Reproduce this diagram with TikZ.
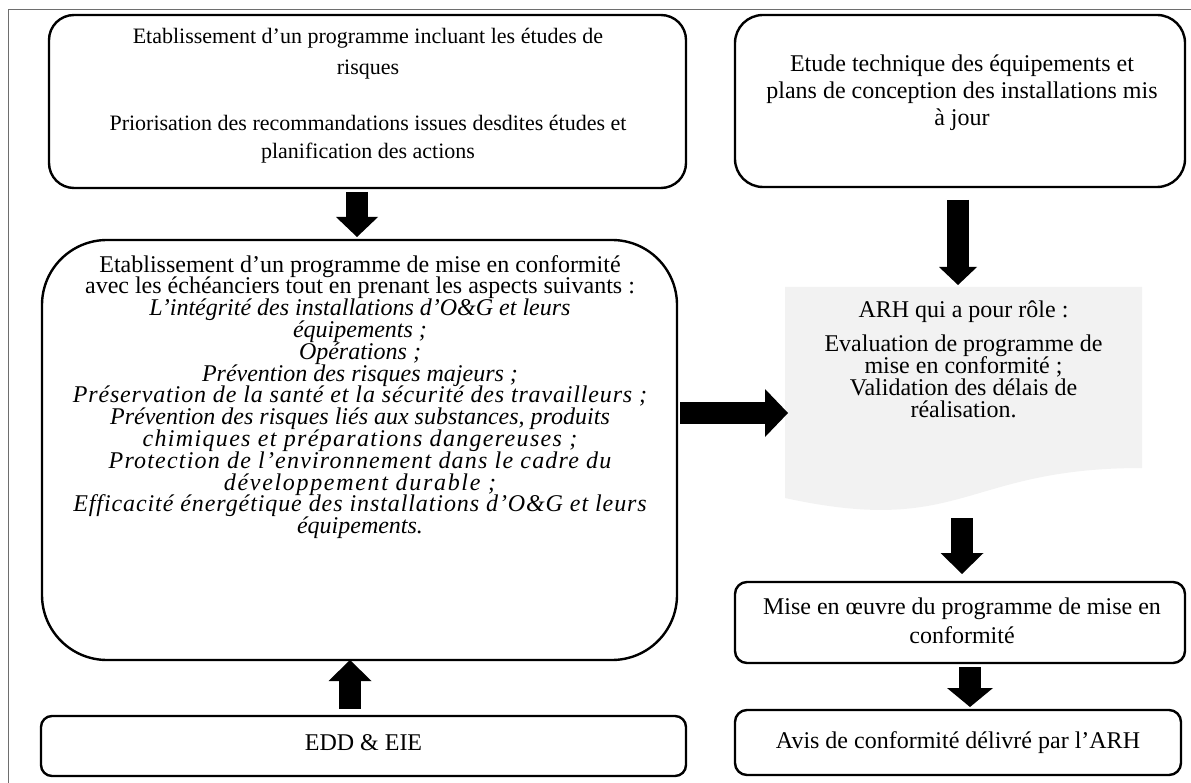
\documentclass[tikz,border=0pt]{standalone}
\usepackage{fontspec}
\setmainfont{Liberation Serif}
\usetikzlibrary{arrows.meta,calc}
\definecolor{docfill}{HTML}{F2F2F2}
\definecolor{framegray}{HTML}{6E6E6E}
\newcommand{\spaced}[2]{{\addfontfeature{LetterSpace=#1}#2}}
\begin{document}
\begin{tikzpicture}[x=1pt,y=-1pt,
  box/.style={draw, line width=2.4pt, outer sep=0pt, inner sep=0pt},
  txt/.style={align=center, inner sep=0pt, anchor=north,
    font={\fontsize{24}{#1}\selectfont\lineskiplimit=-100pt}},
  txt/.default=21.8,
  smalltxt/.style={align=center, inner sep=0pt, anchor=north,
    font={\fontsize{22}{#1}\selectfont\lineskiplimit=-100pt}},
  bigarrow/.style 2 args={line width=22pt,
    -{Triangle[width=#1,length=#2,line width=0pt]}}
]
\useasboundingbox (0,0) rectangle (1191,783);

% page frame
\draw[framegray, line width=1.3pt] (8.5,790) -- (8.5,9.5) -- (1200,9.5);

% boxes
\node[box, rounded corners=25pt, minimum width=637pt, minimum height=173pt] (b1) at (367.5,101.5) {};
\node[box, rounded corners=28pt, minimum width=450pt, minimum height=172pt] (b2) at (960,101) {};
\node[box, rounded corners=65pt, minimum width=635pt, minimum height=420pt] (b3) at (359.5,450) {};
\node[box, rounded corners=11pt, minimum width=645pt, minimum height=60pt] (edd) at (363.5,746) {};
\node[box, rounded corners=12pt, minimum width=450pt, minimum height=81pt] (mise) at (960,622.5) {};
\node[box, rounded corners=12pt, minimum width=446pt, minimum height=65pt] (avis) at (958,742.5) {};

% document shape for the ARH step
\node[minimum width=357pt, minimum height=226pt, inner sep=0pt, outer sep=0pt] (arh) at (963.5,400) {};
\fill[docfill] (arh.north west) -- (arh.north east) -- ($(arh.north east)+(0,181)$)
  .. controls ($(arh.north)+(0,181)$) and ($(arh.north)+(0,250)$) .. ($(arh.north west)+(0,211)$) -- cycle;

% texts
\node[smalltxt=28.5] (t1) at (368,28) {Etablissement d’un programme incluant les études de\\[3pt]risques\\[27pt]Priorisation des recommandations issues desdites études et\\planification des actions};
\node[txt=27] (t2) at (962,55) {Etude technique des équipements et\\plans de conception des installations mis\\à jour};
\node[txt] (t3) at (360,255) {Etablissement d’un programme de mise en conformité\\avec les échéanciers tout en prenant les aspects suivants :\\
{\itshape L’intégrité des installations d’O\&G et leurs}\\
{\itshape équipements ;}\\
{\itshape Opérations ;}\\
{\itshape Prévention des risques majeurs ;}\\
{\itshape\spaced{3.5}{Préservation de la santé et la sécurité des travailleurs ;}}\\
{\itshape Prévention des risques liés aux substances, produits}\\
{\itshape\spaced{5.5}{chimiques et préparations dangereuses ;}}\\
{\itshape\spaced{5}{Protection de l’environnement dans le cadre du}}\\
{\itshape\spaced{7}{développement durable ;}}\\
{\itshape\spaced{3.8}{Efficacité énergétique des installations d’O\&G et leurs}}\\
{\itshape équipements.}};
\node[txt=21.8] (t4) at (963.5,300.5) {ARH qui a pour rôle :\\[12.4pt]Evaluation de programme de\\mise en conformité ;\\Validation des délais de\\réalisation.};
\node[txt=29] (t5) at (962,598) {Mise en œuvre du programme de mise en\\conformité};
\node[txt] (t6) at (958,731) {Avis de conformité délivré par l’ARH};
\node[txt] (t7) at (363.5,734) {EDD \& EIE};

% block arrows
\draw[bigarrow={42pt}{20pt}, shorten <=4pt, shorten >=3pt] (b1.south -| 357,0) -- (b3.north -| 357,0);
\draw[bigarrow={43pt}{21pt}, shorten <=7pt] (edd.north -| 350,0) -- (b3.south -| 350,0);
\draw[bigarrow={48pt}{23pt}, shorten <=3pt, shorten >=-3pt] (b3.east |- 0,413) -- (arh.west |- 0,413);
\draw[bigarrow={38pt}{18pt}, shorten <=13pt, shorten >=2pt] (b2.south -| 958,0) -- (arh.north -| 958,0);
\draw[bigarrow={43pt}{21pt}, shorten <=5pt, shorten >=8pt] (arh.south -| 962,0) -- (mise.north -| 962,0);
\draw[bigarrow={46pt}{19pt}, shorten <=4pt, shorten >=3pt] (mise.south -| 970,0) -- (avis.north -| 970,0);
\end{tikzpicture}
\end{document}
